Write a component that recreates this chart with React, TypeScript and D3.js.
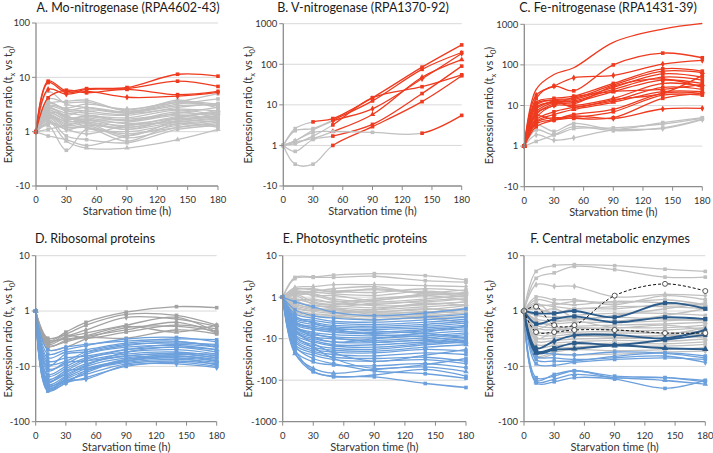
import React from "react";
import * as d3 from "d3";

// ---------------- DATA ----------------
const times = [0, 12, 30, 50, 90, 140, 180];
const xTickValues = [0, 30, 60, 90, 120, 150, 180];

const ticksA = [-10, 1, 10, 100];
const ticksB = [-10, 1, 10, 100, 1000];
const ticksC = [-10, 1, 10, 100, 1000];
const ticksD = [-100, -10, 1, 10];
const ticksE = [-1000, -100, -10, 1, 10];
const ticksF = [-100, -10, 1, 10];

const titleA = "A. Mo-nitrogenase (RPA4602-43)";
const titleB = "B. V-nitrogenase (RPA1370-92)";
const titleC = "C. Fe-nitrogenase (RPA1431-39)";
const titleD = "D. Ribosomal proteins";
const titleE = "E. Photosynthetic proteins";
const titleF = "F. Central metabolic enzymes";
const xAxisTitle = "Starvation time (h)";

const aRed = [
  [1, 8.5, 5.6, 6.2, 6.5, 11.4, 10.5],
  [1, 8.0, 5.2, 6.0, 6.2, 8.5, 6.8],
  [1, 6.0, 4.9, 5.5, 4.3, 4.5, 5.3],
  [1, 4.2, 5.8, 5.2, 6.0, 4.8, 5.5],
];
const aGray = [
  [1, 3.5, 2.5, 2.8, 2.3, 3.2, 4.0],
  [1, 3.2, 3.6, 3.8, 2.4, 3.5, 5.0],
  [1, 2.8, 2.0, 2.5, 2.2, 3.0, 3.1],
  [1, 2.5, 1.8, 1.9, 1.6, 2.2, 2.8],
  [1, 2.3, 1.6, 1.5, 1.3, 1.9, 2.2],
  [1, 2.1, 1.5, 1.7, 1.2, 1.7, 1.9],
  [1, 2.0, 1.3, 1.4, 1.1, 1.5, 1.8],
  [1, 1.9, 1.2, 1.2, -1.1, 1.3, 1.6],
  [1, 1.8, 1.1, 1.3, -1.3, 1.2, 1.5],
  [1, 1.7, -1.2, -1.4, -1.6, 1.1, 1.3],
  [1, 1.6, -1.5, -2.0, -2.0, -1.4, 1.1],
  [1, 1.3, -2.2, 1.1, -1.5, 1.4, 1.2],
  [1, -1.2, -1.4, -1.8, -1.2, 1.2, 1.4],
  [1, 2.6, 2.2, 2.0, 1.8, 2.5, 2.0],
  [1, 3.0, 2.7, 3.2, 2.6, 3.4, 3.0],
  [1, 2.4, 1.9, 1.6, 1.5, 2.0, 1.7],
  [1, 2.2, 1.7, 1.8, 1.4, 1.8, 2.5],
  [1, 1.5, 1.2, 1.3, 1.2, 1.6, 1.9],
  [1, 2.9, 2.4, 2.2, 2.0, 2.8, 3.3],
  [1, 2.0, 1.4, 1.6, 1.7, 2.1, 2.1],
  [1, 1.4, 1.1, -1.1, 1.3, 1.5, 1.7],
  [1, 4.0, 3.4, 3.5, 2.5, 3.6, 3.2],
  [1, 5.5, 3.2, 2.8, 2.2, 2.6, 2.4],
  [1, 1.8, 1.6, 2.0, 1.6, 2.3, 1.8],
  [1, 2.7, 1.9, 1.5, -1.2, 1.6, 2.0],
  [1, 1.1, 1.3, 1.5, 1.1, 1.8, 2.3],
  [1, 2.2, 2.0, 1.2, 1.0, 1.4, 1.6],
  [1, 3.3, 2.6, 2.4, 2.1, 3.8, 2.7],
];

const bLines = [
  [1, 2.6, 3.8, 4.6, 15, 85, 300],
  [1, 2.3, 2.6, 4.2, 12.5, 75, 195],
  [1, 1.3, 2.4, 4.0, 8, 44, 185],
  [1, 1.1, 1.7, 3.2, 15, 28, 55],
  [1, 1.2, 1.5, 2.2, 5.8, 48, 130],
  [1, -1.4, 1.4, 1.7, 3.3, 19, 90],
  [1, -2.9, -2.9, 1.0, 2.9, 12, 52],
  [1, 1.3, 2.1, 2.2, 2.1, 2.0, 5.5],
];
const bRedFrom = [2, 3, 3, 3, 3, 3, 3, 5];

const cRed = [
  [1, 25, 58, 85, 360, 760, 1050],
  [1, 15, 30, 23, 100, 195, 150],
  [1, 18, 30, 48, 55, 105, 130],
  [1, 12, 15, 17, 35, 80, 70],
  [1, 10, 14, 15, 32, 70, 65],
  [1, 8, 13, 14, 28, 60, 50],
  [1, 7, 12, 13, 25, 50, 42],
  [1, 6, 11, 12, 22, 42, 35],
  [1, 5, 10, 10, 15, 35, 30],
  [1, 4.5, 7, 9, 13, 28, 25],
  [1, 4, 6, 8, 12, 22, 22],
  [1, 3.5, 4.5, 6, 8, 20, 20],
  [1, 3, 4.3, 5, 7, 18, 18],
  [1, 3.8, 5, 4.8, 5, 15, 20],
  [1, 5.5, 4.5, 5.5, 4.8, 8.2, 8.5],
  [1, 9, 12, 11, 30, 45, 28],
  [1, 6.5, 10, 16, 22, 25, 33],
  [1, 11, 13, 9, 14, 20, 55],
];
const cGray = [
  [1, 3.3, 2.3, 3.6, 2.6, 3.8, 5.0],
  [1, 2.5, 1.9, 2.7, 2.8, 3.5, 4.8],
  [1, 1.9, 1.4, 1.6, 2.5, 2.7, 4.5],
  [1, 1.3, 1.9, 3.0, 2.4, 2.8, 4.6],
];

const dGray = [
  [1, -3.5, -2.4, -1.6, -1.05, 1.2, 1.15],
  [1, -3.1, -2.6, -1.8, -1.15, -1.2, -1.8],
  [1, -3.6, -2.9, -2.2, -1.3, -1.4, -1.9],
  [1, -4.0, -3.0, -2.5, -1.8, -1.3, -2.4],
  [1, -3.3, -3.2, -2.8, -1.9, -2.4, -1.8],
  [1, -4.4, -3.4, -2.9, -2.2, -1.6, -2.5],
  [1, -3.8, -2.7, -3.1, -2.4, -1.8, -2.1],
  [1, -4.2, -3.6, -3.0, -3.1, -2.2, -2.6],
  [1, -5.0, -4.5, -3.2, -2.0, -1.9, -2.3],
];
const dBlue = [
  [1, -5, -4.5, -4, -3.5, -3.2, -3.3],
  [1, -6, -5, -4.2, -3.2, -3.0, -3.6],
  [1, -7, -5.5, -5, -3.8, -3.5, -4.5],
  [1, -9, -8, -5.5, -4.0, -3.8, -4.0],
  [1, -11, -9, -6, -4.5, -4.2, -5],
  [1, -8, -7, -6.5, -5, -4.5, -5.5],
  [1, -14, -10, -7, -5.5, -5, -6],
  [1, -17, -12, -8, -6, -5.5, -6.5],
  [1, -19, -13, -9, -6.5, -6, -7],
  [1, -21, -15, -10, -7, -6.5, -7.5],
  [1, -23, -16, -11, -8, -7, -8],
  [1, -25, -17, -12, -8.5, -7.5, -8.5],
  [1, -27, -18, -14, -9, -8, -9],
  [1, -28, -20, -16, -10, -8.5, -10],
  [1, -22, -18, -17, -9.5, -9, -10.5],
  [1, -24, -19, -13, -7.5, -6, -6],
  [1, -18, -14, -9.5, -5.5, -4.5, -5],
  [1, -12, -8.5, -8, -6.5, -5.8, -7],
  [1, -15, -11, -7.5, -5, -4, -4.5],
  [1, -20, -12, -11, -7.5, -7, -9.5],
  [1, -26, -20, -12, -8, -6.5, -8],
  [1, -10, -6, -5.5, -4.2, -3.6, -4.2],
];

const eGray = [
  [1, 3.0, 3.1, 3.4, 3.7, 3.3, 2.6],
  [1, 2.8, 3.0, 3.0, 3.2, 2.5, 2.3],
  [1, 1.7, 1.8, 2.0, 2.0, 1.9, 1.8],
  [1, 1.5, 1.6, 1.3, 1.6, 1.3, 1.2],
  [1, 1.3, 1.4, 1.6, 1.8, 1.2, 1.3],
  [1, 1.2, 1.3, 1.2, 1.1, 1.4, 1.1],
  [1, 1.4, 1.1, 1.1, -1.2, 1.2, 1.0],
  [1, 1.1, 1.2, -1.1, -1.3, -1.1, 1.1],
  [1, -1.2, -1.1, -1.4, -1.5, -1.2, -1.1],
  [1, -1.1, -1.4, -1.6, -1.8, -1.5, -1.3],
  [1, -1.3, -1.6, -1.8, -2.0, -1.7, -1.5],
  [1, -1.5, -1.8, -2.0, -2.2, -2.0, -1.6],
  [1, -1.6, -2.0, -2.3, -2.4, -2.3, -1.8],
  [1, -1.8, -2.2, -2.5, -2.7, -2.6, -2.0],
  [1, -2.0, -2.5, -2.7, -3.0, -2.8, -2.4],
  [1, -2.3, -2.9, -3.0, -3.4, -3.2, -2.9],
  [1, 1.2, -1.3, -1.5, -1.2, 1.1, 1.2],
  [1, 1.4, 1.3, 1.4, 1.5, 1.3, 1.5],
  [1, -1.1, -1.2, -1.3, -1.1, 1.1, -1.2],
  [1, -1.4, -1.9, -2.1, -2.3, -1.9, -2.2],
  [1, 1.1, -1.5, -1.7, -1.4, -1.3, -1.1],
  [1, -1.7, -2.1, -1.9, -2.6, -2.2, -2.5],
  [1, 1.6, 1.5, 1.4, 1.3, 1.6, 1.4],
  [1, -1.2, -1.8, -2.4, -2.0, -1.4, -1.6],
  [1, -2.2, -2.6, -2.8, -3.6, -3.0, -4.5],
  [1, 1.3, 1.1, -1.2, -1.6, -1.5, -1.3],
];
const eBlue = [
  [1, -1.3, -1.7, -2.3, -2.8, -2.4, -1.9],
  [1, -2.0, -2.8, -3.2, -3.5, -3.0, -2.6],
  [1, -2.5, -3.2, -3.8, -4.0, -3.5, -3.0],
  [1, -3.0, -3.6, -4.2, -4.5, -4.0, -3.4],
  [1, -3.2, -4.0, -4.8, -5.0, -4.5, -3.8],
  [1, -3.5, -4.5, -5.2, -5.5, -5.0, -4.2],
  [1, -4.0, -5.0, -5.8, -6.0, -5.5, -4.8],
  [1, -4.2, -5.5, -6.5, -7.0, -6.0, -5.2],
  [1, -4.5, -6.0, -7.0, -7.5, -6.5, -5.8],
  [1, -5.0, -7.0, -8.0, -8.5, -7.5, -6.5],
  [1, -5.5, -8.0, -9.0, -9.5, -8.5, -7.2],
  [1, -6.0, -9.0, -10, -11, -9.5, -8.0],
  [1, -6.5, -10, -12, -12.5, -10.5, -9.0],
  [1, -7.0, -11, -14, -14, -12, -10],
  [1, -8.0, -12, -15, -16, -13, -11],
  [1, -9.0, -14, -17, -18, -14, -12],
  [1, -10, -16, -19, -20, -16, -14],
  [1, -11, -18, -21, -22, -18, -20],
  [1, -12, -20, -24, -26, -22, -24],
  [1, -14, -22, -28, -30, -28, -35],
  [1, -16, -25, -32, -35, -32, -40],
  [1, -20, -36, -43, -45, -40, -50],
  [1, -23, -52, -68, -55, -48, -62],
  [1, -18, -60, -83, -75, -55, -80],
  [1, -22, -63, -80, -83, -120, -150],
  [1, -8.5, -16, -30, -52, -42, -30],
  [1, -6, -13, -22, -35, -25, -18],
  [1, -4.8, -9, -12, -10, -7, -5],
  [1, -3.8, -5.5, -6, -8, -9, -12],
  [1, -5.2, -7.5, -9.5, -12, -11, -13],
  [1, -2.8, -4.2, -5.5, -6.5, -7.5, -9.5],
  [1, -15, -30, -40, -60, -70, -90],
];

const fGray = [
  [1, 5.2, 6.6, 6.9, 6.6, 5.7, 5.2],
  [1, 3.9, 4.9, 6.4, 5.6, 4.1, 4.1],
  [1, 3.0, 2.8, 2.8, 1.8, 2.0, 1.9],
  [1, 1.8, 1.6, 1.6, 1.3, 1.9, 1.6],
  [1, 1.6, 1.4, 1.3, 1.5, 1.4, 1.3],
  [1, 1.3, 1.2, 1.1, 1.2, 1.2, 1.1],
  [1, 1.1, -1.1, 1.1, 1.1, 1.3, 1.2],
  [1, -1.2, -1.3, -1.2, -1.1, -1.1, -1.2],
  [1, -1.4, -1.5, -1.4, -1.3, -1.4, -1.5],
  [1, -1.6, -1.7, -1.6, -1.6, -1.5, -1.4],
  [1, -1.8, -2.0, -1.9, -1.8, -1.7, -1.6],
  [1, -2.0, -2.2, -2.1, -2.0, -2.0, -1.8],
  [1, -2.3, -2.5, -2.4, -2.3, -2.2, -2.0],
  [1, -2.6, -2.8, -2.6, -2.5, -2.5, -2.3],
  [1, -3.0, -3.1, -2.9, -2.8, -2.8, -2.6],
  [1, -3.5, -3.4, -3.2, -3.1, -3.1, -2.9],
  [1, -4.0, -3.8, -3.6, -3.4, -3.5, -3.2],
  [1, -4.5, -4.2, -4.0, -3.8, -3.9, -3.6],
  [1, -5.5, -4.8, -4.5, -4.2, -4.3, -4.0],
  [1, -6.5, -5.5, -5.0, -5.2, -5.0, -4.6],
  [1, -7.0, -6.0, -6.2, -6.0, -5.5, -5.3],
  [1, 1.2, 1.3, 1.5, 1.4, 1.6, 1.3],
  [1, -1.1, 1.1, -1.3, -1.5, -1.2, 1.1],
  [1, -2.1, -1.6, -1.5, -2.0, -1.8, -2.2],
  [1, -3.2, -2.3, -2.0, -2.2, -2.6, -3.0],
  [1, 1.4, -1.2, -1.4, -1.2, 1.1, 1.4],
  [1, -1.5, -1.9, -2.5, -3.0, -2.7, -2.0],
];
const fLightBlue = [
  [1, -7.6, -8, -8, -6.6, -5.7, -6.5],
  [1, -9, -9.5, -8.5, -7.5, -7.0, -7.5],
  [1, -6.5, -7, -7.5, -7, -6.5, -8.5],
  [1, -16, -15, -12, -16, -16, -18],
  [1, -19, -17, -14, -16, -18, -21],
  [1, -20, -19, -16, -17, -25, -18],
  [1, -18, -14, -12, -15, -16, -19],
  [1, -5, -6, -6.2, -5.5, -5.8, -7],
];
const fDarkBlue = [
  [1, -1.1, -1.1, 1.0, -1.3, 1.4, 1.1],
  [1, -1.7, -1.4, -1.25, -1.6, -1.3, -1.4],
  [1, -4.7, -3.5, -2.75, -2.7, -3.1, -2.2],
  [1, -5.4, -4.7, -3.8, -4.1, -3.3, -2.7],
  [1, -5.7, -5.0, -4.8, -4.2, -4.7, -4.9],
];
const fDashed = [
  [1, 1.2, -1.8, -1.8, 1.9, 3.1, 2.3],
  [1, -2.4, -2.4, -2.2, -2.2, -2.5, -2.5],
];

// ---------------- STYLE ----------------
const RED = "#EE3B1F";
const GRAY = "#C0C0C0";
const DGRAY = "#A3A3A3";
const BLUE = "#6CA0DC";
const DBLUE = "#2B5C8C";
const AXIS = "#8C8C8C";
const GRID = "#D9D9D9";
const FONT = "Lato, 'Open Sans', sans-serif";

const toDec = (v: number) => (v >= 1 ? Math.log10(v) : v <= -1 ? -Math.log10(-v) : 0);

const shapes = [d3.symbolSquare, d3.symbolSquare, d3.symbolDiamond, d3.symbolSquare, d3.symbolTriangle, d3.symbolSquare];

type Group = {
  data: number[][];
  color: string;
  width?: number;
  dashed?: boolean;
  redFrom?: number[];
  plainFirst?: boolean;
};

type PanelCfg = {
  key: string;
  title: string;
  titleX: number;
  titleY: number;
  titleAnchor: "start" | "middle";
  left: number;
  right: number;
  top: number;
  bottom: number;
  yTicks: number[];
  yTitleX: number;
  groups: Group[];
};

const panels: PanelCfg[] = [
  { key: "A", title: titleA, titleX: 128, titleY: 12, titleAnchor: "middle", left: 36, right: 218, top: 23, bottom: 186, yTicks: ticksA, yTitleX: 8,
    groups: [{ data: aGray, color: GRAY }, { data: aRed, color: RED }] },
  { key: "B", title: titleB, titleX: 363, titleY: 12, titleAnchor: "middle", left: 283.3, right: 461.7, top: 23.7, bottom: 186, yTicks: ticksB, yTitleX: 248,
    groups: [{ data: bLines, color: RED, redFrom: bRedFrom }] },
  { key: "C", title: titleC, titleX: 608, titleY: 12, titleAnchor: "middle", left: 524.3, right: 702.3, top: 24.3, bottom: 186.7, yTicks: ticksC, yTitleX: 489,
    groups: [{ data: cGray, color: GRAY }, { data: cRed, color: RED, plainFirst: true }] },
  { key: "D", title: titleD, titleX: 35, titleY: 243, titleAnchor: "start", left: 35.7, right: 216.7, top: 255.7, bottom: 421.7, yTicks: ticksD, yTitleX: 8,
    groups: [{ data: dGray, color: DGRAY }, { data: dBlue, color: BLUE }] },
  { key: "E", title: titleE, titleX: 355, titleY: 243, titleAnchor: "middle", left: 282.7, right: 466, top: 255.7, bottom: 421.7, yTicks: ticksE, yTitleX: 248,
    groups: [{ data: eGray, color: GRAY }, { data: eBlue, color: BLUE }] },
  { key: "F", title: titleF, titleX: 610, titleY: 243, titleAnchor: "middle", left: 524, right: 705.3, top: 255.7, bottom: 421.7, yTicks: ticksF, yTitleX: 489,
    groups: [
      { data: fGray, color: GRAY },
      { data: fLightBlue, color: BLUE },
      { data: fDarkBlue, color: DBLUE, width: 1.9 },
      { data: fDashed, color: "#111", dashed: true },
    ] },
];

function Panel({ p }: { p: PanelCfg }) {
  const x = d3.scaleLinear().domain([0, 180]).range([p.left, p.right]);
  const y = d3
    .scaleLinear()
    .domain([toDec(p.yTicks[0]), toDec(p.yTicks[p.yTicks.length - 1])])
    .range([p.bottom, p.top]);
  const line = d3
    .line<number>()
    .x((_, i) => x(times[i]))
    .y((v) => y(toDec(v)))
    .curve(d3.curveCatmullRom.alpha(0.5));
  const cy = (p.top + p.bottom) / 2;

  const elems: React.ReactNode[] = [];
  p.groups.forEach((g, gi) => {
    g.data.forEach((row, li) => {
      const d = line(row) || "";
      const k = `${p.key}-${gi}-${li}`;
      const sw = g.width ?? 1.3;
      if (g.redFrom) {
        const cut = x(times[g.redFrom[li]]);
        elems.push(
          <g key={k}>
            <clipPath id={`cg-${k}`}>
              <rect x={p.left - 5} y={0} width={cut - p.left + 5} height={453} />
            </clipPath>
            <clipPath id={`cr-${k}`}>
              <rect x={cut} y={0} width={p.right - cut + 8} height={453} />
            </clipPath>
            <path d={d} fill="none" stroke={GRAY} strokeWidth={sw} clipPath={`url(#cg-${k})`} />
            <path d={d} fill="none" stroke={g.color} strokeWidth={sw} clipPath={`url(#cr-${k})`} />
            {row.map((v, i) => (
              <path
                key={i}
                d={d3.symbol().type(shapes[li % shapes.length]).size(13)() || ""}
                transform={`translate(${x(times[i])},${y(toDec(v))})`}
                fill={i >= g.redFrom![li] ? g.color : GRAY}
              />
            ))}
          </g>
        );
        return;
      }
      const plain = g.plainFirst && li === 0;
      elems.push(
        <g key={k}>
          <path d={d} fill="none" stroke={g.color} strokeWidth={g.dashed ? 1 : sw} strokeDasharray={g.dashed ? "3,2" : undefined} />
          {!plain &&
            row.map((v, i) =>
              g.dashed ? (
                <circle key={i} cx={x(times[i])} cy={y(toDec(v))} r={2.5} fill="#fff" stroke="#333" strokeWidth={0.8} />
              ) : (
                <path
                  key={i}
                  d={d3.symbol().type(shapes[li % shapes.length]).size(g.width ? 18 : 13)() || ""}
                  transform={`translate(${x(times[i])},${y(toDec(v))})`}
                  fill={g.color}
                />
              )
            )}
        </g>
      );
    });
  });

  return (
    <g>
      <text x={p.titleX} y={p.titleY} textAnchor={p.titleAnchor} fontSize={12.5} fill="#1a1a1a" fontFamily={FONT}>
        {p.title}
      </text>
      {p.yTicks.map((t, i) =>
        i === 0 ? null : (
          <line key={"g" + t} x1={p.left} x2={p.right} y1={y(toDec(t))} y2={y(toDec(t))} stroke={GRID} strokeWidth={1} />
        )
      )}
      {elems}
      <line x1={p.left} x2={p.left} y1={p.top} y2={p.bottom} stroke={AXIS} strokeWidth={1.3} />
      <line x1={p.left} x2={p.right} y1={p.bottom} y2={p.bottom} stroke={AXIS} strokeWidth={1.3} />
      {p.yTicks.map((t) => (
        <g key={"yt" + t}>
          <line x1={p.left - 4} x2={p.left} y1={y(toDec(t))} y2={y(toDec(t))} stroke={AXIS} strokeWidth={1} />
          <text x={p.left - 6} y={y(toDec(t))} dy="0.35em" textAnchor="end" fontSize={9.5} fill="#333" fontFamily={FONT}>
            {t}
          </text>
        </g>
      ))}
      {xTickValues.map((t) => (
        <g key={"xt" + t}>
          <line x1={x(t)} x2={x(t)} y1={p.bottom} y2={p.bottom + 4} stroke={AXIS} strokeWidth={1} />
          <text x={x(t)} y={p.bottom + 17} textAnchor="middle" fontSize={9.5} fill="#333" fontFamily={FONT}>
            {t}
          </text>
        </g>
      ))}
      <text x={(p.left + p.right) / 2} y={p.bottom + 29} textAnchor="middle" fontSize={11} fill="#333" fontFamily={FONT}>
        {xAxisTitle}
      </text>
      <text transform={`translate(${p.yTitleX + 4},${cy}) rotate(-90)`} textAnchor="middle" fontSize={11} fill="#333" fontFamily={FONT}>
        <tspan>Expression ratio (t</tspan>
        <tspan dy={2.5} fontSize={7.5}>x</tspan>
        <tspan dy={-2.5}> vs t</tspan>
        <tspan dy={2.5} fontSize={7.5}>0</tspan>
        <tspan dy={-2.5}>)</tspan>
      </text>
    </g>
  );
}

export default function App() {
  return (
    <svg width={713} height={453} style={{ position: "absolute", left: 0, top: 0, background: "#fff" }}>
      <rect width={713} height={453} fill="#fff" />
      {panels.map((p) => (
        <Panel key={p.key} p={p} />
      ))}
    </svg>
  );
}
